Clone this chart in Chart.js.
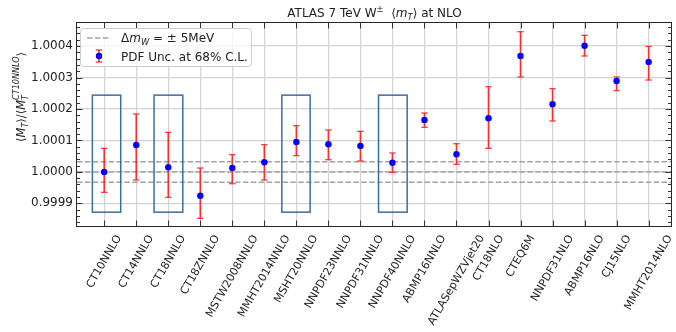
<!DOCTYPE html>
<html><head><meta charset="utf-8">
<script src="https://cdn.jsdelivr.net/npm/chart.js@4"></script>
<style>html,body{margin:0;padding:0;background:#fff;} canvas{display:block;}</style>
</head><body>
<canvas id="c" width="676" height="332"></canvas>
<script>
// ---- data ----
const categories = ["CT10NNLO","CT14NNLO","CT18NNLO","CT18ZNNLO","MSTW2008NNLO","MMHT2014NNLO","MSHT20NNLO","NNPDF23NNLO","NNPDF31NNLO","NNPDF40NNLO","ABMP16NNLO","ATLASepWZVjet20","CT18NLO","CTEQ6M","NNPDF31NLO","ABMP16NLO","CJ15NLO","MMHT2014NLO"];
const central = [1.0000000,1.0000855,1.0000146,0.9999243,1.0000124,1.0000305,1.0000950,1.0000877,1.0000823,1.0000292,1.0001650,1.0000559,1.0001704,1.0003684,1.0002149,1.0004011,1.0002889,1.0003493];
const upper   = [1.0000750,1.0001840,1.0001259,1.0000124,1.0000547,1.0000865,1.0001469,1.0001332,1.0001290,1.0000601,1.0001872,1.0000896,1.0002708,1.0004456,1.0002645,1.0004342,1.0003017,1.0003992];
const lower   = [0.9999352,0.9999743,0.9999193,0.9998525,0.9999625,0.9999743,1.0000515,1.0000388,1.0000346,0.9999987,1.0001418,1.0000242,1.0000750,1.0003017,1.0001618,1.0003684,1.0002581,1.0002921];
const yTicks = [0.9999,1.0000,1.0001,1.0002,1.0003,1.0004];
const deltaLines = [0.9999675,1.0000000,1.0000325];
const boxStart = [-0.37,1.556,5.547,8.566];
const boxEnd   = [0.515,2.453,6.43,9.46];
const boxLow = 0.999872, boxHigh = 1.000244;

const FONT = '"DejaVu Sans", sans-serif';

function pieceFont(p, size){
  const s = (p.sub||p.sup) ? size*0.7 : size;
  return (p.it?'italic ':'') + s + 'px ' + FONT;
}
function measureRich(ctx, pieces, size){
  let w = 0;
  pieces.forEach(p=>{
    if (p.stack){
      ctx.font = pieceFont({it:true,sub:true}, size);
      w += Math.max(ctx.measureText(p.stack[0]).width, ctx.measureText(p.stack[1]).width);
    } else { ctx.font = pieceFont(p, size); w += ctx.measureText(p.t).width; }
  });
  return w;
}
function drawRich(ctx, pieces, x, y, size){
  let cx = x;
  ctx.textAlign = 'left'; ctx.textBaseline = 'alphabetic';
  pieces.forEach(p=>{
    if (p.stack){
      ctx.font = pieceFont({it:true,sub:true}, size);
      ctx.fillText(p.stack[0], cx, y+size*0.22);
      ctx.fillText(p.stack[1], cx, y-size*0.48);
      cx += Math.max(ctx.measureText(p.stack[0]).width, ctx.measureText(p.stack[1]).width);
    } else {
      ctx.font = pieceFont(p, size);
      const dy = p.sub ? size*0.22 : (p.sup ? -size*0.42 : 0);
      ctx.fillText(p.t, cx, y+dy);
      cx += ctx.measureText(p.t).width;
    }
  });
}
function line(ctx,x0,y0,x1,y1){ctx.beginPath();ctx.moveTo(x0,y0);ctx.lineTo(x1,y1);ctx.stroke();}

const decor = {
  id: 'decor',
  beforeDatasetsDraw(chart){
    const {ctx, chartArea:a, scales:{x,y}} = chart;
    ctx.save();
    ctx.beginPath(); ctx.rect(a.left,a.top,a.right-a.left,a.bottom-a.top); ctx.clip();
    ctx.strokeStyle = '#a3a3a3'; ctx.lineWidth = 1.5; ctx.setLineDash([5.5,2.4]);
    deltaLines.forEach(v=>{ const py = y.getPixelForValue(v); line(ctx,a.left,py,a.right,py); });
    ctx.setLineDash([]);
    ctx.strokeStyle = '#3d6d9e'; ctx.lineWidth = 1.5;
    boxStart.forEach((s,k)=>{
      const x0 = x.getPixelForValue(s), x1 = x.getPixelForValue(boxEnd[k]);
      const y0 = y.getPixelForValue(boxHigh), y1 = y.getPixelForValue(boxLow);
      ctx.strokeRect(x0,y0,x1-x0,y1-y0);
    });
    ctx.strokeStyle = '#ff2a2a';
    categories.forEach((c,i)=>{
      const px = x.getPixelForValue(i), pt = y.getPixelForValue(upper[i]), pb = y.getPixelForValue(lower[i]);
      ctx.lineWidth = 1.6; line(ctx,px,pt,px,pb);
      ctx.lineWidth = 1.2; line(ctx,px-3.2,pt,px+3.2,pt); line(ctx,px-3.2,pb,px+3.2,pb);
    });
    ctx.restore();
  },
  afterDraw(chart){
    const {ctx, chartArea:a, scales:{x,y}} = chart;
    ctx.save();
    // frame
    ctx.strokeStyle = '#262626'; ctx.lineWidth = 1;
    const L = Math.round(a.left)-0.5, R = Math.round(a.right)-0.5, T = Math.round(a.top)-0.5, B = Math.round(a.bottom)-0.5;
    ctx.strokeRect(L,T,R-L,B-T);
    // inward ticks
    ctx.strokeStyle = '#333';
    categories.forEach((c,i)=>{
      const px = Math.round(x.getPixelForValue(i))+0.5;
      line(ctx,px,B,px,B-6); line(ctx,px,T,px,T+6);
    });
    yTicks.forEach(v=>{
      const py = Math.round(y.getPixelForValue(v))+0.5;
      line(ctx,L,py,L+6,py); line(ctx,R,py,R-6,py);
    });
    for (let k=-10;k<=25;k++){
      if (k%5===0) continue;
      const v = 1 + k*0.00002;
      if (v < y.min || v > y.max) continue;
      const py = Math.round(y.getPixelForValue(v))+0.5;
      line(ctx,L,py,L+3.5,py); line(ctx,R,py,R-3.5,py);
    }
    // x labels (rotated, bbox centred on tick)
    ctx.fillStyle = '#222';
    ctx.font = '11px ' + FONT;
    categories.forEach((c,i)=>{
      const w = ctx.measureText(c).width;
      const px = x.getPixelForValue(i) + 0.25*w;
      ctx.save();
      ctx.translate(px, 236);
      ctx.rotate(-Math.PI/3);
      ctx.textAlign = 'right'; ctx.textBaseline = 'middle';
      ctx.fillText(c, 0, 0);
      ctx.restore();
    });
    // title
    const title = [{t:'ATLAS 7 TeV W'},{t:'\u00B1',sup:true},{t:'  \u27E8'},{t:'m',it:true},{t:'T',it:true,sub:true},{t:'\u27E9 at NLO'}];
    const tw = measureRich(ctx,title,12);
    drawRich(ctx,title,(a.left+a.right)/2 - tw/2, 17, 12);
    // y label
    const ylab = [{t:'\u27E8'},{t:'M',it:true},{t:'T',it:true,sub:true},{t:'\u27E9/\u27E8'},{t:'M',it:true},{stack:['T','CT10NNLO']},{t:'\u27E9'}];
    ctx.save();
    ctx.translate(25, 97);
    ctx.rotate(-Math.PI/2);
    const yw = measureRich(ctx,ylab,11.5);
    drawRich(ctx,ylab,-yw/2,0,11.5);
    ctx.restore();
    // legend
    ctx.beginPath();
    ctx.roundRect(80.5,28.5,171,38,3);
    ctx.fillStyle = 'rgba(255,255,255,0.8)'; ctx.fill();
    ctx.strokeStyle = '#cccccc'; ctx.lineWidth = 1; ctx.stroke();
    ctx.strokeStyle = '#a3a3a3'; ctx.lineWidth = 1.5; ctx.setLineDash([5.5,2.4]);
    line(ctx,87,38,111,38);
    ctx.setLineDash([]);
    ctx.strokeStyle = '#ff2a2a'; ctx.lineWidth = 1.6; line(ctx,99,50,99,62);
    ctx.lineWidth = 1.2; line(ctx,95.8,50,102.2,50); line(ctx,95.8,62,102.2,62);
    ctx.fillStyle = '#0000ff'; ctx.beginPath(); ctx.arc(99,56,3.2,0,Math.PI*2); ctx.fill();
    ctx.fillStyle = '#222';
    drawRich(ctx,[{t:'\u0394'},{t:'m',it:true},{t:'W',it:true,sub:true},{t:' = \u00B1 5MeV'}],121,42,12);
    drawRich(ctx,[{t:'PDF Unc. at 68% C.L.'}],121,60.5,12);
    ctx.restore();
  }
};

const chart = new Chart(document.getElementById('c').getContext('2d'), {
  type: 'scatter',
  data: { datasets: [{
    data: categories.map((c,i)=>({x:i, y:central[i]})),
    backgroundColor: '#0000ff', borderColor: '#0000ff', borderWidth: 0,
    pointRadius: 3.2, pointHoverRadius: 3.2
  }]},
  options: {
    responsive: false, animation: false, devicePixelRatio: 1,
    layout: { padding: { left: 0, right: 4, top: 23, bottom: 0 } },
    plugins: { legend: { display: false }, tooltip: { enabled: false }, title: { display: false } },
    scales: {
      x: {
        type: 'linear', min: -0.85, max: 17.73,
        afterBuildTicks: s => { s.ticks = categories.map((c,i)=>({value:i})); },
        ticks: { display: false },
        grid: { color: '#d3d3d3', lineWidth: 1.2, drawTicks: false },
        border: { display: false },
        afterFit: s => { s.height = 105; }
      },
      y: {
        min: 0.9998249, max: 1.0004733,
        afterBuildTicks: s => { s.ticks = yTicks.map(v=>({value:v})); },
        ticks: { font: { family: 'DejaVu Sans', size: 12 }, color: '#222', padding: 4, callback: v => Number(v).toFixed(4) },
        grid: { color: '#d3d3d3', lineWidth: 1.2, drawTicks: false },
        border: { display: false },
        afterFit: s => { s.width = 77; }
      }
    }
  },
  plugins: [decor]
});
</script>
</body></html>
